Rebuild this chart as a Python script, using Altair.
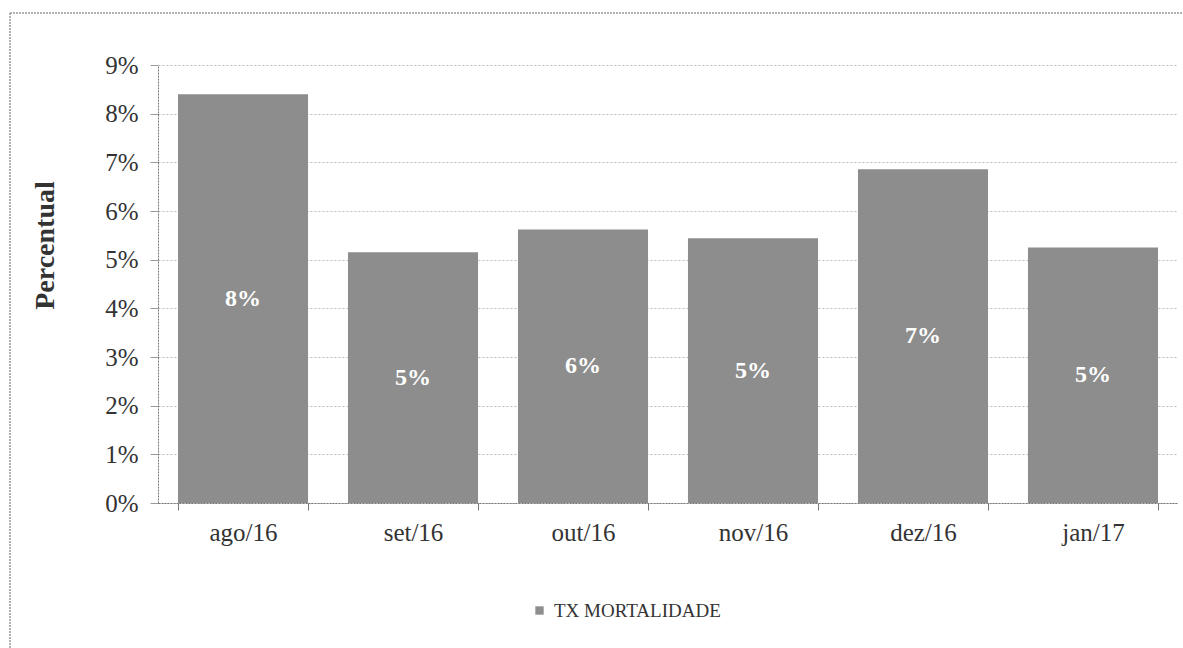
import altair as alt
import pandas as pd

months = ["ago/16", "set/16", "out/16", "nov/16", "dez/16", "jan/17"]
values = [8.40, 5.15, 5.62, 5.44, 6.86, 5.25]
labels = ["8%", "5%", "6%", "5%", "7%", "5%"]
series = ["TX MORTALIDADE"] * 6
y_ticks = [0, 1, 2, 3, 4, 5, 6, 7, 8, 9]

df = pd.DataFrame({"mes": months, "valor": values, "rotulo": labels, "serie": series})
df["meio"] = df["valor"] / 2

FONT = "Liberation Serif"

x_axis = alt.Axis(title=None, labelAngle=0, labelFontSize=25, labelFont=FONT,
                  labelColor="#333", labelPadding=10, tickBand="extent",
                  tickSize=7, tickColor="#777", domainColor="#777",
                  domainDash=[2, 1], grid=False, gridOpacity=0)
x_scale = alt.Scale(paddingInner=0.235, paddingOuter=0.1176)

y_axis = alt.Axis(values=y_ticks, labelExpr="datum.value + '%'",
                  labelFontSize=25, labelFont=FONT, labelColor="#333",
                  labelPadding=12, tickSize=8, tickColor="#999",
                  domainColor="#777", domainDash=[2, 1],
                  grid=True, gridColor="#bbbbbb", gridDash=[2, 2],
                  title="Percentual", titleFont=FONT, titleFontSize=28,
                  titleFontWeight="bold", titleColor="#333",
                  titleAngle=-90, titleX=-113, titleY=180,
                  titleAlign="center", titleBaseline="middle")
y_scale = alt.Scale(domain=[0, 9], nice=False)

bars = alt.Chart(df).mark_bar(color="#8d8d8d").encode(
    x=alt.X("mes:N", sort=months, scale=x_scale, axis=x_axis),
    y=alt.Y("valor:Q", scale=y_scale, axis=y_axis),
    color=alt.Color("serie:N", scale=alt.Scale(range=["#8d8d8d"]),
                    legend=alt.Legend(title=None, orient="none", legendX=372, legendY=536,
                                      symbolType="square", symbolSize=70,
                                      symbolStrokeWidth=0, labelFont=FONT,
                                      labelFontSize=19, labelColor="#333",
                                      labelLimit=400, labelOffset=5, padding=0)),
)

text = alt.Chart(df).mark_text(color="white", font=FONT, fontSize=24,
                               fontWeight="bold", baseline="middle").encode(
    x=alt.X("mes:N", sort=months, scale=x_scale, axis=x_axis),
    y=alt.Y("meio:Q", scale=y_scale, axis=y_axis),
    text="rotulo:N",
)

border_df = pd.DataFrame({"k": [0]})
border_top = alt.Chart(border_df).mark_rule(color="#999999", strokeWidth=1.5,
                                            strokeDash=[2, 1]).encode(
    x=alt.value(-148), x2=alt.value(1040), y=alt.value(-52)
)
border_left = alt.Chart(border_df).mark_rule(color="#999999", strokeWidth=1.5,
                                             strokeDash=[2, 1]).encode(
    x=alt.value(-148), y=alt.value(-52), y2=alt.value(620)
)

chart = alt.layer(bars, text, border_top, border_left).properties(
    width=1020, height=438,
    background="white",
    autosize=alt.AutoSizeParams(type="none"),
    padding={"left": 158, "top": 65, "right": 5, "bottom": 145},
).configure(font=FONT).configure_view(strokeOpacity=0, strokeWidth=0)

chart.save("out.html", embed_options={"renderer": "svg", "actions": False})
